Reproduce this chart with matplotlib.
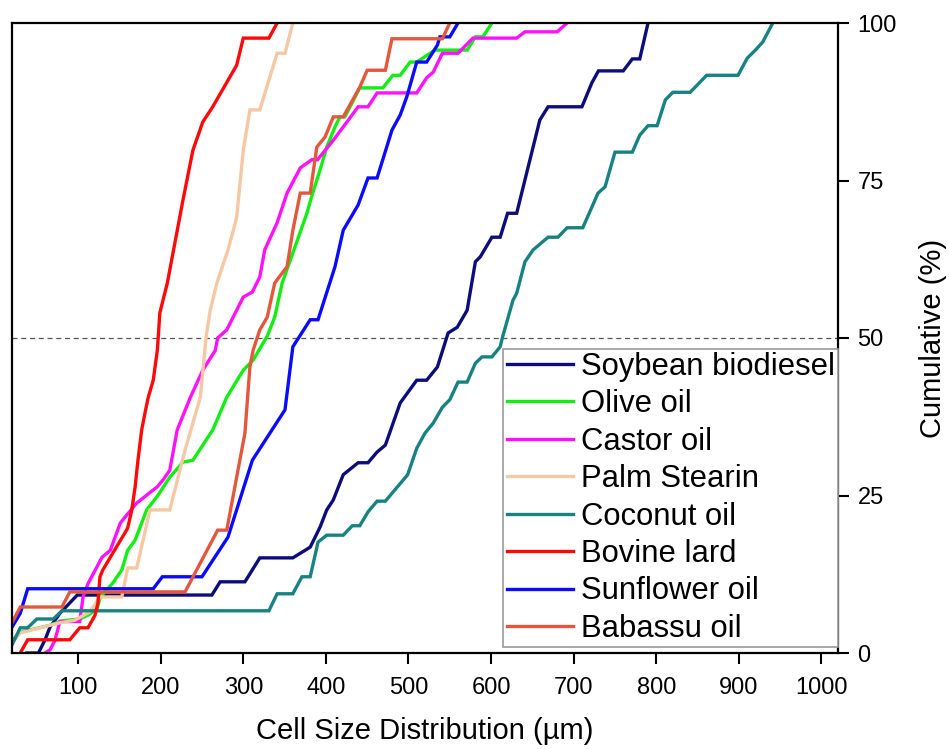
import matplotlib
matplotlib.use("Agg")
import matplotlib.pyplot as plt

plt.rcParams['font.family'] = ['Liberation Sans', 'DejaVu Sans']

# ---- data (cell size in µm, cumulative %) ----
soy_x = [38, 52, 60, 66, 78, 99, 262, 272, 302, 320, 360, 381, 393, 401, 409, 421, 439, 451, 462, 472,
         490, 510, 522, 535, 548, 559, 571, 581, 587, 601, 611, 620, 631, 641, 659, 669, 710, 722, 730,
         760, 771, 780, 790]
soy_y = [0, 0, 2.1, 4.1, 6.3, 9.2, 9.2, 11.3, 11.3, 15.1, 15.1, 16.8, 20.0, 22.7, 24.3, 28.3, 30.2, 30.2,
         31.9, 33.0, 39.7, 43.3, 43.3, 45.4, 50.8, 51.7, 54.4, 62.1, 62.9, 66.0, 66.0, 69.8, 69.8, 75.1,
         84.6, 86.7, 86.7, 90.5, 92.4, 92.4, 94.3, 94.3, 100]

olive_x = [20, 30, 66, 80, 102, 112, 123, 127, 142, 153, 160, 169, 183, 196, 211, 227, 239, 263, 280,
           300, 312, 329, 338, 347, 360, 377, 384, 393, 401, 411, 417, 423, 441, 469, 481, 490, 502, 510,
           532, 571, 581, 590, 601]
olive_y = [2.0, 3.3, 4.4, 5.1, 5.4, 6.0, 7.0, 8.9, 11.1, 13.2, 16.3, 17.9, 22.7, 24.9, 27.9, 30.3, 30.6,
           35.4, 40.6, 44.9, 46.5, 50.3, 53.3, 58.7, 63.5, 69.8, 73.0, 76.7, 80.3, 83.5, 85.1, 85.1, 89.7,
           89.7, 91.7, 91.7, 93.8, 93.8, 95.7, 95.7, 97.8, 97.8, 100]

castor_x = [60, 66, 72, 78, 102, 106, 112, 129, 139, 151, 157, 171, 196, 203, 211, 220, 236, 251, 266,
            269, 280, 300, 311, 320, 326, 341, 353, 369, 383, 390, 409, 421, 439, 451, 462, 510, 522, 530,
            541, 560, 578, 631, 641, 680, 692]
castor_y = [0, 0.5, 2, 5, 5, 8.9, 11, 15.2, 16.3, 20.6, 21.6, 23.8, 26.4, 27.5, 29, 35.4, 40.6, 44.9, 48,
            50, 51.3, 56.5, 57.3, 59.7, 64, 68.3, 73, 77, 78.3, 78.3, 81.4, 83.5, 86.7, 86.7, 88.9, 88.9,
            91.3, 92.2, 95.2, 95.2, 97.6, 97.6, 98.6, 98.6, 100]

palm_x = [20, 30, 54, 78, 96, 114, 126.5, 153, 160, 171, 187, 211, 229.5, 248, 255, 260, 268, 281.5,
          288, 292, 300, 308, 320, 341, 350.5, 360]
palm_y = [1.6, 3.2, 4.0, 4.8, 5.2, 6.5, 8.9, 8.9, 13.5, 13.5, 22.7, 22.7, 32.2, 40.6, 50.2, 54.4, 58.7,
          64.0, 67.1, 69.2, 79.8, 86.2, 86.2, 95.2, 95.2, 100]

coco_x = [20, 30, 39, 50, 70, 80.5, 331, 341, 360, 371, 381, 390.5, 401, 421, 432, 441, 451, 462, 472,
          499, 510, 520, 530, 541, 550, 560, 571, 581, 589, 601, 611, 614, 626.5, 631, 641, 651, 669,
          681, 692, 711, 729.5, 738, 750, 771, 780, 790, 801, 811, 820, 841, 861, 899, 910, 920, 929, 941]
coco_y = [1.3, 4.0, 4.0, 5.4, 5.4, 6.7, 6.7, 9.4, 9.4, 12.1, 12.1, 17.6, 18.7, 18.7, 20.2, 20.2, 22.4,
          24.1, 24.1, 28.3, 32.5, 34.9, 36.5, 39.0, 40.2, 43.0, 43.0, 46.0, 47.0, 47.0, 48.6, 50.2, 56.0,
          57.1, 62.1, 64.0, 66.0, 66.0, 67.5, 67.5, 73.0, 74.0, 79.5, 79.5, 82.2, 83.7, 83.7, 87.8, 89.0,
          89.0, 91.7, 91.7, 94.4, 95.7, 97.0, 100]

lard_x = [30, 39, 90, 102, 112, 120.5, 124, 126.5, 130, 160, 165, 169, 172.5, 177, 181, 185, 191, 196,
          199, 208, 227, 239, 251, 263, 292, 300, 331, 341]
lard_y = [0, 2.1, 2.1, 4.0, 4.0, 6.0, 7.9, 12.1, 13.2, 19.8, 22.7, 26.3, 30.6, 35.4, 38.1, 40.6, 43.3,
          48.1, 54.0, 58.7, 71.9, 79.8, 84.3, 86.7, 93.3, 97.6, 97.6, 100]

sun_x = [20, 30, 39, 191, 202, 250, 281.5, 311, 350.5, 360, 381, 390.5, 411, 421, 439, 451, 462, 480,
         490, 498, 510, 522, 535, 538, 550, 560]
sun_y = [4.1, 6.3, 10.2, 10.2, 12.1, 12.1, 18.4, 30.6, 38.6, 48.6, 52.9, 52.9, 61.3, 67.1, 71.1, 75.4,
         75.4, 83.0, 85.4, 88.3, 93.8, 93.8, 96.5, 97.8, 97.8, 100]

bab_x = [20, 30, 80.5, 90, 229.5, 269, 280, 292, 302, 308, 312, 320, 329, 338, 347, 353, 360, 369, 381,
         389, 399, 409, 421, 441, 450, 472, 480, 541, 550]
bab_y = [4.8, 7.3, 7.3, 9.7, 9.7, 19.5, 19.5, 27.9, 34.9, 45.4, 48.1, 51.3, 53.3, 58.7, 60.3, 61.3, 67.1,
         73.0, 73.0, 80.3, 81.9, 85.1, 85.1, 89.8, 92.5, 92.5, 97.5, 97.5, 100]

series = [
    ("Soybean biodiesel", soy_x, soy_y, "#0c0c7c"),
    ("Olive oil", olive_x, olive_y, "#12ee12"),
    ("Castor oil", castor_x, castor_y, "#ff10ff"),
    ("Palm Stearin", palm_x, palm_y, "#f6c7a3"),
    ("Coconut oil", coco_x, coco_y, "#168282"),
    ("Bovine lard", lard_x, lard_y, "#ff0808"),
    ("Sunflower oil", sun_x, sun_y, "#0a0aff"),
    ("Babassu oil", bab_x, bab_y, "#e4573c"),
]

x_ticks = [100, 200, 300, 400, 500, 600, 700, 800, 900, 1000]
y_ticks = [0, 25, 50, 75, 100]

fig = plt.figure(figsize=(9.49, 7.49), dpi=100)
ax = fig.add_axes([12/949, 96/749, 826/949, 630/749])

for name, xs, ys, c in series:
    ax.plot(xs, ys, color=c, lw=2.4, label=name, solid_joinstyle='miter')

ax.axhline(50, color="#555555", lw=0.9, ls=(0, (4, 3)), zorder=1)

ax.set_xlim(20, 1020)
ax.set_ylim(0, 100)
ax.set_xticks(x_ticks)
ax.set_yticks(y_ticks)
ax.yaxis.tick_right()
ax.yaxis.set_label_position("right")
ax.tick_params(axis='both', direction='out', length=8, width=1.5, labelsize=17)
ax.tick_params(axis='x', pad=9)
ax.tick_params(axis='y', pad=6)
for s in ax.spines.values():
    s.set_linewidth(1.6)
    s.set_color("black")

ax.set_xlabel("Cell Size Distribution (µm)", fontsize=21, labelpad=13)
ax.set_ylabel("Cumulative (%)", fontsize=21, labelpad=16)

leg = ax.legend(loc="lower right", bbox_to_anchor=(1.0, 0.0095), borderaxespad=0,
                fontsize=22.3, frameon=True, fancybox=False, framealpha=1,
                edgecolor="#999999", handlelength=2.15, handletextpad=0.25,
                labelspacing=0.24, borderpad=0.1)
leg.get_frame().set_linewidth(1.2)
for l in leg.get_lines():
    l.set_linewidth(2.4)

fig.savefig("out.png", dpi=100)
